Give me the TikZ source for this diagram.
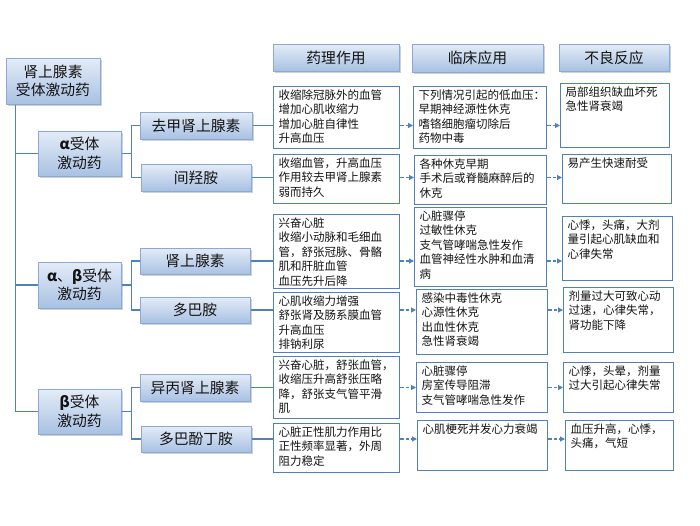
\documentclass[tikz,border=0pt]{standalone}
\usepackage{fontspec}
\setmainfont{Noto Sans CJK SC}
\usetikzlibrary{shadows,arrows.meta}
\definecolor{lineblue}{HTML}{4F81BD}
\definecolor{gtop}{HTML}{E4ECF7}
\definecolor{gbot}{HTML}{A8C1E3}
\definecolor{gborder}{HTML}{8AA9D5}
\definecolor{txt}{HTML}{141414}
\tikzset{
  dbox/.style={draw=gborder, line width=1pt, top color=gtop, bottom color=gbot,
    drop shadow={shadow xshift=1.5pt, shadow yshift=-1.8pt, fill=black!45, opacity=.4},
    font=\fontsize{14.8}{18.5}\selectfont, text=txt, align=center, inner sep=0pt},
  colbox/.style={draw=lineblue, line width=1.4pt, fill=white, inner xsep=5pt, inner ysep=3pt,
    font=\fontsize{11.5}{14.5}\selectfont, text=txt},
  tree/.style={draw=lineblue, line width=1.5pt},
  darr/.style={draw=lineblue, line width=1.1pt, dash pattern=on 3.5pt off 2pt,
    -{Triangle[length=5pt,width=5pt]}},
}
\newcommand\mybox[6]{%
  \pgfmathsetmacro\bw{#4-#2}\pgfmathsetmacro\bh{#5-#3}%
  \pgfmathsetmacro\pw{\bw-10}\pgfmathsetmacro\ph{\bh-6}%
  \node[colbox, anchor=north west, minimum width=\bw pt, minimum height=\bh pt] (#1) at (#2,#3)
    {\parbox[c][\ph pt][t]{\pw pt}{\raggedright #6}};}
\begin{document}
\begin{tikzpicture}[x=1pt,y=-1pt]
\useasboundingbox[fill=white] (0,0) rectangle (700,525);
% headers
\node[dbox, minimum width=126pt, minimum height=27pt] (h1) at (336,57.5) {药理作用};
\node[dbox, minimum width=131pt, minimum height=28pt] (h2) at (477.5,58) {临床应用};
\node[dbox, minimum width=110pt, minimum height=27pt] (h3) at (614,57.5) {不良反应};
% tree
\node[dbox, minimum width=94pt, minimum height=46pt] (root) at (53,81) {肾上腺素\\受体激动药};
\node[dbox, minimum width=83pt, minimum height=45pt] (alpha) at (79.5,153.5) {\textbf{α}受体\\激动药};
\node[dbox, minimum width=83pt, minimum height=46pt] (ab) at (79.5,285) {\textbf{α}、\textbf{β}受体\\激动药};
\node[dbox, minimum width=83pt, minimum height=45pt] (beta) at (79.5,411.5) {\textbf{β}受体\\激动药};
\node[dbox, minimum width=112pt, minimum height=27pt] (ne) at (196,125.5) {去甲肾上腺素};
\node[dbox, minimum width=110pt, minimum height=27pt] (mh) at (196,177.5) {间羟胺};
\node[dbox, minimum width=110pt, minimum height=26pt] (ad) at (195,261) {肾上腺素};
\node[dbox, minimum width=110pt, minimum height=26pt] (dp) at (195,310) {多巴胺};
\node[dbox, minimum width=110pt, minimum height=27pt] (iso) at (195,387.5) {异丙肾上腺素};
\node[dbox, minimum width=110pt, minimum height=26pt] (dob) at (196,439) {多巴酚丁胺};
% column 1
\mybox{a1}{273}{86}{399}{148}{收缩除冠脉外的血管\\增加心肌收缩力\\增加心脏自律性\\升高血压}
\mybox{a2}{273}{154}{399}{203}{收缩血管，升高血压\\作用较去甲肾上腺素\\弱而持久}
\mybox{a3}{273}{214}{399}{288}{兴奋心脏\\收缩小动脉和毛细血\\管，舒张冠脉、骨骼\\肌和肝脏血管\\血压先升后降}
\mybox{a4}{273}{292}{399}{352}{心肌收缩力增强\\舒张肾及肠系膜血管\\升高血压\\排钠利尿}
\mybox{a5}{273}{356}{399}{418}{兴奋心脏，舒张血管，\\收缩压升高舒张压略\\降，舒张支气管平滑\\肌}
\mybox{a6}{273}{423}{399}{472}{心脏正性肌力作用比\\正性频率显著，外周\\阻力稳定}
% column 2
\mybox{b1}{413}{86}{546}{148}{下列情况引起的低血压\makebox[0.45em][l]{：}\\早期神经源性休克\\嗜铬细胞瘤切除后\\药物中毒}
\mybox{b2}{414}{155}{546}{204}{各种休克早期\\手术后或脊髓麻醉后的\\休克}
\mybox{b3}{414}{207}{546}{286}{心脏骤停\\过敏性休克\\支气管哮喘急性发作\\血管神经性水肿和血清\\病}
\mybox{b4}{416}{289}{547}{354}{感染中毒性休克\\心源性休克\\出血性休克\\急性肾衰竭}
\mybox{b5}{416}{362}{547}{412}{心脏骤停\\房室传导阻滞\\支气管哮喘急性发作}
\mybox{b6}{417}{420}{547}{470}{心肌梗死并发心力衰竭}
% column 3
\mybox{c1}{560}{83}{669}{147}{局部组织缺血坏死\\急性肾衰竭}
\mybox{c2}{562}{154}{671}{203}{易产生快速耐受}
\mybox{c3}{562}{216}{672}{280}{心悸，头痛，大剂\\量引起心肌缺血和\\心律失常}
\mybox{c4}{563}{287}{673}{352}{剂量过大可致心动\\过速，心律失常，\\肾功能下降}
\mybox{c5}{563}{362}{673}{412}{心悸，头晕，剂量\\过大引起心律失常}
\mybox{c6}{565}{420}{673}{470}{血压升高，心悸，\\头痛，气短}
% tree connectors
\coordinate (t0) at ([xshift=10pt]root.south west);
\draw[tree] (t0) -- (t0 |- beta.west) -- (beta.west);
\draw[tree] (t0 |- alpha.west) -- (alpha.west);
\draw[tree] (t0 |- ab.west) -- (ab.west);
\coordinate (ja) at ([xshift=10pt]alpha.east);
\coordinate (jb) at ([xshift=10pt]ab.east);
\coordinate (jc) at ([xshift=10pt]beta.east);
\draw[tree] (alpha.east) -- (ja);
\draw[tree] (ne.west) -| (ja) |- (mh.west);
\draw[tree] (ab.east) -- (jb);
\draw[tree] (ad.west) -| (jb) |- (dp.west);
\draw[tree] (beta.east) -- (jc);
\draw[tree] (iso.west) -| (jc) |- (dob.west);
% rows
\foreach \d/\p/\q/\r in {ne/a1/b1/c1, mh/a2/b2/c2, ad/a3/b3/c3, dp/a4/b4/c4, iso/a5/b5/c5, dob/a6/b6/c6}{
  \draw[tree] (\d.east) -- (\d.east -| \p.west);
  \draw[darr] (\d.east -| \p.east) -- (\d.east -| \q.west);
  \draw[darr] (\d.east -| \q.east) -- (\d.east -| \r.west);
}
\end{tikzpicture}
\end{document}
